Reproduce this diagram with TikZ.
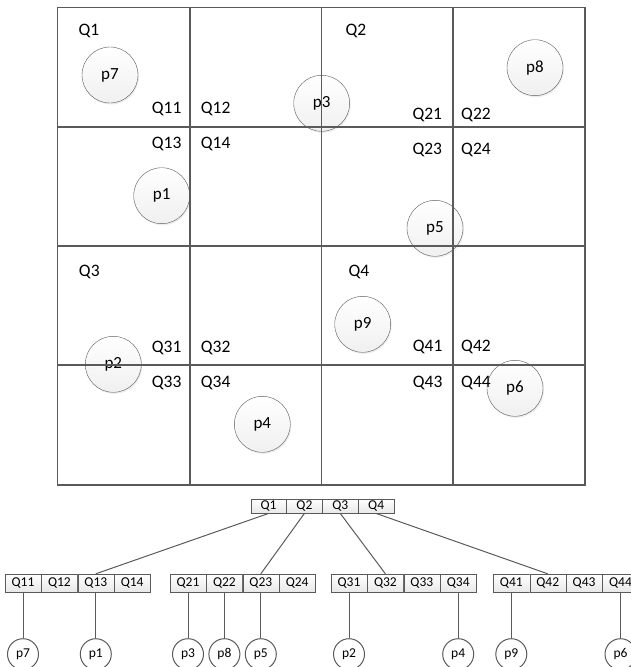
\documentclass[tikz,border=0pt]{standalone}
\usepackage{fontspec}
\setmainfont{Carlito}
\usetikzlibrary{positioning, shadows}

\definecolor{linegray}{HTML}{5A5A5A}

\begin{document}
\begin{tikzpicture}[
    x=1pt, y=-1pt,
    gridline/.style={draw=linegray, line width=1.1pt},
    point/.style={
        circle,
        draw=linegray,
        minimum size=56pt,
        inner sep=0pt,
        top color=white,
        bottom color=gray!12,
        drop shadow={opacity=0.15, shadow xshift=1pt, shadow yshift=-1.5pt},
        font=\fontsize{17}{19}\selectfont
    },
    qlabel/.style={font=\fontsize{17.5}{19}\selectfont},
    cell/.style={
        rectangle,
        draw=linegray,
        minimum width=36pt,
        minimum height=18pt,
        inner sep=0pt,
        top color=white,
        bottom color=gray!18,
        font=\fontsize{13.5}{15}\selectfont
    },
    rootcell/.style={cell, minimum width=35.5pt, minimum height=14.5pt},
    leaf/.style={
        circle,
        draw=linegray,
        line width=1pt,
        minimum size=31pt,
        inner sep=0pt,
        fill=white,
        font=\fontsize{13.5}{15}\selectfont
    },
    link/.style={draw=linegray, line width=1pt}
]
\useasboundingbox (0,0) rectangle (630,667);

% Points
\node[point] (gp7) at (110,75) {p7};
\node[point] (gp1) at (161.7,195.7) {p1};
\node[point] (gp3) at (321.7,103.3) {p3};
\node[point] (gp8) at (535,67.7) {p8};
\node[point] (gp5) at (435,228.3) {p5};
\node[point] (gp2) at (113.3,364.3) {p2};
\node[point] (gp4) at (262.3,424.3) {p4};
\node[point] (gp9) at (362.7,324.3) {p9};
\node[point] (gp6) at (515,388.3) {p6};

% Quadrant grid
\draw[gridline] (57.5,7.5) rectangle (585,485);
\draw[gridline] (190,7.5) -- (190,485);
\draw[gridline] (321.5,7.5) -- (321.5,485);
\draw[gridline] (453,7.5) -- (453,485);
\draw[gridline] (57.5,127) -- (585,127);
\draw[gridline] (57.5,246) -- (585,246);
\draw[gridline] (57.5,365) -- (585,365);

% Quadrant labels
\node[qlabel] (lq1) at (89,31) {Q1};
\node[qlabel] (lq11) at (166.7,109) {Q11};
\node[qlabel] (lq12) at (215.7,109) {Q12};
\node[qlabel] (lq13) at (166.7,144) {Q13};
\node[qlabel] (lq14) at (215.7,144) {Q14};
\node[qlabel] (lq2) at (356,31) {Q2};
\node[qlabel] (lq21) at (427.3,115) {Q21};
\node[qlabel] (lq22) at (476,115) {Q22};
\node[qlabel] (lq23) at (427.3,150) {Q23};
\node[qlabel] (lq24) at (476,150) {Q24};
\node[qlabel] (lq3) at (89.3,271.7) {Q3};
\node[qlabel] (lq31) at (166.7,347.7) {Q31};
\node[qlabel] (lq32) at (215.7,347.7) {Q32};
\node[qlabel] (lq33) at (166.7,383) {Q33};
\node[qlabel] (lq34) at (215.7,383) {Q34};
\node[qlabel] (lq4) at (359,272.3) {Q4};
\node[qlabel] (lq41) at (427.7,347.3) {Q41};
\node[qlabel] (lq42) at (476,347.3) {Q42};
\node[qlabel] (lq43) at (427.7,382.7) {Q43};
\node[qlabel] (lq44) at (476,382.7) {Q44};

% Root row
\node[rootcell] (q1) at (268.5,506) {Q1};
\node[rootcell, right=0pt of q1] (q2) {Q2};
\node[rootcell, right=0pt of q2] (q3) {Q3};
\node[rootcell, right=0pt of q3] (q4) {Q4};

% Second level rows
\node[cell] (q11) at (23,583) {Q11};
\node[cell, right=0pt of q11] (q12) {Q12};
\node[cell, right=0pt of q12] (q13) {Q13};
\node[cell, right=0pt of q13] (q14) {Q14};

\node[cell] (q21) at (188,583) {Q21};
\node[cell, right=0pt of q21] (q22) {Q22};
\node[cell, right=0pt of q22] (q23) {Q23};
\node[cell, right=0pt of q23] (q24) {Q24};

\node[cell] (q31) at (349,583) {Q31};
\node[cell, right=0pt of q31] (q32) {Q32};
\node[cell, right=0pt of q32] (q33) {Q33};
\node[cell, right=0pt of q33] (q34) {Q34};

\node[cell] (q41) at (511.3,583) {Q41};
\node[cell, right=0pt of q41] (q42) {Q42};
\node[cell, right=0pt of q42] (q43) {Q43};
\node[cell, right=0pt of q43] (q44) {Q44};

% Leaves
\node[leaf, below=46pt of q11] (tp7) {p7};
\node[leaf, below=46pt of q13] (tp1) {p1};
\node[leaf, below=46pt of q21] (tp3) {p3};
\node[leaf, below=46pt of q22] (tp8) {p8};
\node[leaf, below=46pt of q23] (tp5) {p5};
\node[leaf, below=46pt of q31] (tp2) {p2};
\node[leaf, below=46pt of q34] (tp4) {p4};
\node[leaf, below=46pt of q41] (tp9) {p9};
\node[leaf, below=46pt of q44] (tp6) {p6};

% Links
\draw[link] (q1.south) -- (q13.north);
\draw[link] (q2.south) -- (q23.north);
\draw[link] (q3.south) -- (q32.north);
\draw[link] (q4.south) -- (q42.north);
\foreach \a/\b in {q11/tp7, q13/tp1, q21/tp3, q22/tp8, q23/tp5,
                   q31/tp2, q34/tp4, q41/tp9, q44/tp6}
    \draw[link] (\a.south) -- (\b.north);

\end{tikzpicture}
\end{document}
